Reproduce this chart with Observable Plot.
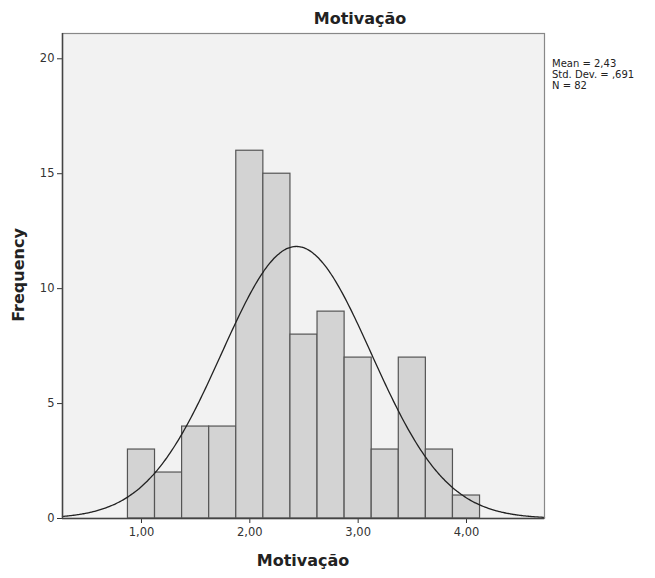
<!DOCTYPE html>
<html>
<head>
<meta charset="utf-8">
<script src="https://cdn.jsdelivr.net/npm/d3@7"></script>
<script src="https://cdn.jsdelivr.net/npm/@observablehq/plot@0.6"></script>
<style>
  body { margin: 0; background: #fff; }
  #chart svg { display: block; }
</style>
</head>
<body>
<div id="chart"></div>
<script>
// Data
const binStarts = [0.875, 1.125, 1.375, 1.625, 1.875, 2.125, 2.375, 2.625, 2.875, 3.125, 3.375, 3.625, 3.875];
const binWidth = 0.25;
const counts = [3, 2, 4, 4, 16, 15, 8, 9, 7, 3, 7, 3, 1];
const mean = 2.43;
const sd = 0.691;
const n = 82;
const xTicks = [1, 2, 3, 4];
const yTicks = [0, 5, 10, 15, 20];
const statsLines = ["Mean = 2,43", "Std. Dev. = ,691", "N = 82"];
const title = "Motivação";
const xLabel = "Motivação";
const yLabel = "Frequency";

const bins = binStarts.map((s, i) => ({x1: s, x2: s + binWidth, count: counts[i]}));

const xDomain = [0.271, 4.72];
const curve = d3.range(0, 301).map(i => {
  const x = xDomain[0] + (xDomain[1] - xDomain[0]) * i / 300;
  const z = (x - mean) / sd;
  return {x, y: n * binWidth * Math.exp(-0.5 * z * z) / (sd * Math.sqrt(2 * Math.PI))};
});

const fmt = d => d.toFixed(2).replace(".", ",");

const plot = Plot.plot({
  width: 655,
  height: 578,
  marginLeft: 62,
  marginRight: 111,
  marginTop: 33,
  marginBottom: 60,
  style: {fontFamily: "DejaVu Sans, sans-serif", fontSize: "11.5px", color: "#333", background: "#fff"},
  x: {domain: xDomain, ticks: xTicks, tickFormat: fmt, tickSize: 5, tickPadding: 4, label: null},
  y: {domain: [0, 21.1], ticks: yTicks, tickSize: 5, tickPadding: 3, label: null},
  marks: [
    Plot.frame({fill: "#f2f2f2", stroke: "none"}),
    Plot.rectY(bins, {x1: "x1", x2: "x2", y: "count", fill: "#d3d3d3", stroke: "#555", strokeWidth: 1.2}),
    Plot.line(curve, {x: "x", y: "y", stroke: "#222", strokeWidth: 1.3, curve: "basis"}),
    Plot.frame({stroke: "#888", strokeWidth: 1.2}),
    Plot.ruleX([xDomain[0]], {stroke: "#444", strokeWidth: 1.5}),
    Plot.ruleY([0], {stroke: "#444", strokeWidth: 1.5})
  ]
});

const svg = d3.select(plot);
const font = "DejaVu Sans, sans-serif";

svg.append("text")
  .attr("x", 360).attr("y", 24)
  .attr("text-anchor", "middle")
  .style("font-family", font)
  .style("font-size", "16px").style("font-weight", "bold").style("fill", "#222")
  .text(title);

svg.append("text")
  .attr("x", 303).attr("y", 566)
  .attr("text-anchor", "middle")
  .style("font-family", font)
  .style("font-size", "16px").style("font-weight", "bold").style("fill", "#222")
  .text(xLabel);

svg.append("text")
  .attr("transform", "translate(24,275) rotate(-90)")
  .attr("text-anchor", "middle")
  .style("font-family", font)
  .style("font-size", "16px").style("font-weight", "bold").style("fill", "#222")
  .text(yLabel);

const st = svg.append("text")
  .attr("x", 552).attr("y", 67)
  .attr("text-anchor", "start")
  .style("font-family", font)
  .style("font-size", "10px").style("fill", "#222");
statsLines.forEach((l, i) => st.append("tspan").attr("x", 552).attr("dy", i === 0 ? 0 : 11).text(l));

document.getElementById("chart").appendChild(plot);
</script>
</body>
</html>
